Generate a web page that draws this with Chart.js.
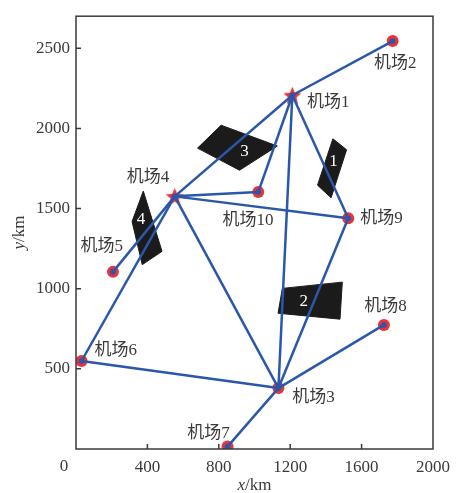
<!DOCTYPE html>
<html>
<head>
  <meta charset="utf-8">
  <title>Airport network</title>
  <script src="https://cdn.jsdelivr.net/npm/chart.js@4.4.0/dist/chart.umd.min.js"></script>
  <style>
    html, body { margin: 0; padding: 0; background: #fff; }
    .chart-container { width: 458px; height: 493px; position: relative; }
  </style>
</head>
<body>
  <div class="chart-container">
    <canvas id="netChart"></canvas>
  </div>

<script>
// airports (km)
const airportNames = ['机场1', '机场2', '机场3', '机场4', '机场5', '机场6', '机场7', '机场8', '机场9', '机场10'];
const airportX = [1212, 1774, 1134, 553, 207, 31, 849, 1725, 1525, 1021];
const airportY = [2207, 2545, 380, 1576, 1105, 549, 15, 774, 1439, 1603];
const hubAirports = [1, 4]; // drawn as stars

// label anchors (km) for each airport name
const labelX = [1413, 1789, 1330, 404, 144, 222, 742, 1734, 1712, 964];
const labelY = [2162, 2404, 322, 1691, 1264, 613, 99, 886, 1437, 1425];

// routes between airports (1-based numbers)
const routes = [
  [1, 2], [1, 4], [1, 10], [1, 3], [1, 9],
  [4, 10], [4, 9], [4, 5], [4, 6], [4, 3],
  [9, 3], [6, 3], [3, 8], [3, 7]
];

// no-fly zones: corner lists (km) and their label points
const zoneNames = ['1', '2', '3', '4'];
const zoneX = [
  [1439, 1516, 1429, 1353],
  [1156, 1492, 1479, 1132],
  [813, 1128, 916, 681],
  [377, 314, 371, 482]
];
const zoneY = [
  [1935, 1867, 1567, 1646],
  [1002, 1041, 810, 847],
  [2020, 1890, 1739, 1877],
  [1609, 1419, 1150, 1233]
];
const zoneLabelX = [1442, 1276, 944, 364];
const zoneLabelY = [1791, 923, 1853, 1429];

const xTicks = [0, 400, 800, 1200, 1600, 2000];
const yTicks = [0, 500, 1000, 1500, 2000, 2500];

const BLUE = '#2b57a8';
const RED = '#e8323c';
const AXIS = '#3a3a3a';
const SERIF = '"Liberation Serif", "DejaVu Serif", serif';
const CJK = '"Liberation Serif", "Noto Sans CJK SC", serif';

// filled red star used as point style
function makeStar(size) {
  const c = document.createElement('canvas');
  c.width = size; c.height = size;
  const g = c.getContext('2d');
  const cx = size / 2, cy = size / 2 + 1, R = size / 2, r = R * 0.45;
  g.beginPath();
  for (let i = 0; i < 10; i++) {
    const rad = i % 2 === 0 ? R : r;
    const a = -Math.PI / 2 + i * Math.PI / 5;
    const px = cx + rad * Math.cos(a), py = cy + rad * Math.sin(a);
    if (i === 0) g.moveTo(px, py); else g.lineTo(px, py);
  }
  g.closePath();
  g.fillStyle = RED;
  g.fill();
  return c;
}
const starImg = makeStar(19);

const datasets = [];

// zones
zoneX.forEach((xs, i) => {
  const pts = xs.map((x, j) => ({ x: x, y: zoneY[i][j] }));
  pts.push(pts[0]);
  datasets.push({
    data: pts,
    showLine: true,
    fill: 'shape',
    backgroundColor: '#1b1b1b',
    borderColor: '#1b1b1b',
    borderWidth: 1,
    pointRadius: 0,
    order: 5
  });
});

// red circles (non-hub airports)
datasets.push({
  data: airportX.map((x, i) => ({ x: x, y: airportY[i] }))
    .filter((p, i) => !hubAirports.includes(i + 1)),
  pointStyle: 'circle',
  pointRadius: 6,
  backgroundColor: RED,
  borderWidth: 0,
  order: 4
});

// stars (hub airports)
datasets.push({
  data: hubAirports.map(n => ({ x: airportX[n - 1], y: airportY[n - 1] })),
  pointStyle: starImg,
  backgroundColor: RED,
  order: 4
});

// routes
routes.forEach(r => {
  const a = r[0] - 1, b = r[1] - 1;
  datasets.push({
    data: [{ x: airportX[a], y: airportY[a] }, { x: airportX[b], y: airportY[b] }],
    showLine: true,
    borderColor: BLUE,
    borderWidth: 2.5,
    pointRadius: 0,
    fill: false,
    order: 3
  });
});

// blue centres
datasets.push({
  data: airportX.map((x, i) => ({ x: x, y: airportY[i] })),
  pointStyle: 'circle',
  pointRadius: 2.8,
  backgroundColor: BLUE,
  borderWidth: 0,
  order: 2
});

// frame, inward ticks and text
const decor = {
  id: 'decor',
  afterDatasetsDraw(chart) {
    const ctx = chart.ctx;
    const xs = chart.scales.x, ys = chart.scales.y;
    const area = chart.chartArea;
    ctx.save();
    ctx.strokeStyle = AXIS;
    ctx.lineWidth = 1.5;
    ctx.strokeRect(area.left, area.top, area.right - area.left, area.bottom - area.top);
    ctx.beginPath();
    xTicks.forEach(v => {
      if (v === xTicks[0] || v === xTicks[xTicks.length - 1]) return;
      const px = xs.getPixelForValue(v);
      ctx.moveTo(px, area.bottom); ctx.lineTo(px, area.bottom - 5);
    });
    yTicks.forEach(v => {
      if (v === yTicks[0]) return;
      const py = ys.getPixelForValue(v);
      ctx.moveTo(area.left, py); ctx.lineTo(area.left + 5, py);
    });
    ctx.stroke();

    // origin label
    ctx.fillStyle = AXIS;
    ctx.font = '17px ' + SERIF;
    ctx.textAlign = 'center';
    ctx.textBaseline = 'middle';
    ctx.fillText('0', area.left - 12, area.bottom + 18);

    // airport names
    ctx.font = '17px ' + CJK;
    airportNames.forEach((n, i) => {
      ctx.fillText(n, xs.getPixelForValue(labelX[i]), ys.getPixelForValue(labelY[i]));
    });

    // zone numbers
    ctx.fillStyle = '#ffffff';
    ctx.font = '17px ' + SERIF;
    zoneNames.forEach((n, i) => {
      ctx.fillText(n, xs.getPixelForValue(zoneLabelX[i]), ys.getPixelForValue(zoneLabelY[i]));
    });

    // axis titles: italic variable + unit
    ctx.fillStyle = AXIS;
    function title(x, y, rot) {
      ctx.save();
      ctx.translate(x, y);
      ctx.rotate(rot);
      ctx.textAlign = 'left';
      ctx.font = 'italic 17px ' + SERIF;
      const v = rot === 0 ? 'x' : 'y';
      const w1 = ctx.measureText(v).width;
      ctx.font = '17px ' + SERIF;
      const w2 = ctx.measureText('/km').width;
      const start = -(w1 + w2) / 2;
      ctx.font = 'italic 17px ' + SERIF;
      ctx.fillText(v, start, 0);
      ctx.font = '17px ' + SERIF;
      ctx.fillText('/km', start + w1, 0);
      ctx.restore();
    }
    title((area.left + area.right) / 2, area.bottom + 37, 0);
    title(20, (area.top + area.bottom) / 2, -Math.PI / 2);
    ctx.restore();
  }
};

document.addEventListener('DOMContentLoaded', function() {
  const ctx = document.getElementById('netChart').getContext('2d');
  new Chart(ctx, {
    type: 'scatter',
    data: { datasets: datasets },
    options: {
      responsive: true,
      maintainAspectRatio: false,
      animation: false,
      layout: { padding: { top: 12, right: 21, bottom: 0, left: 0 } },
      scales: {
        x: {
          type: 'linear',
          min: 0,
          max: 2000,
          afterBuildTicks: s => { s.ticks = xTicks.map(v => ({ value: v })); },
          afterFit: s => { s.height = 44; },
          grid: { display: false, drawTicks: false },
          border: { display: false },
          ticks: {
            padding: 8,
            color: AXIS,
            font: { family: SERIF, size: 17 },
            callback: v => (v === 0 ? '' : v)
          }
        },
        y: {
          type: 'linear',
          min: 0,
          max: 2700,
          afterBuildTicks: s => { s.ticks = yTicks.map(v => ({ value: v })); },
          afterFit: s => { s.width = 76; },
          grid: { display: false, drawTicks: false },
          border: { display: false },
          ticks: {
            padding: 6,
            color: AXIS,
            font: { family: SERIF, size: 17 },
            callback: v => (v === 0 ? '' : v)
          }
        }
      },
      plugins: {
        legend: { display: false },
        tooltip: { enabled: false }
      }
    },
    plugins: [decor]
  });
});
</script>
</body>
</html>
